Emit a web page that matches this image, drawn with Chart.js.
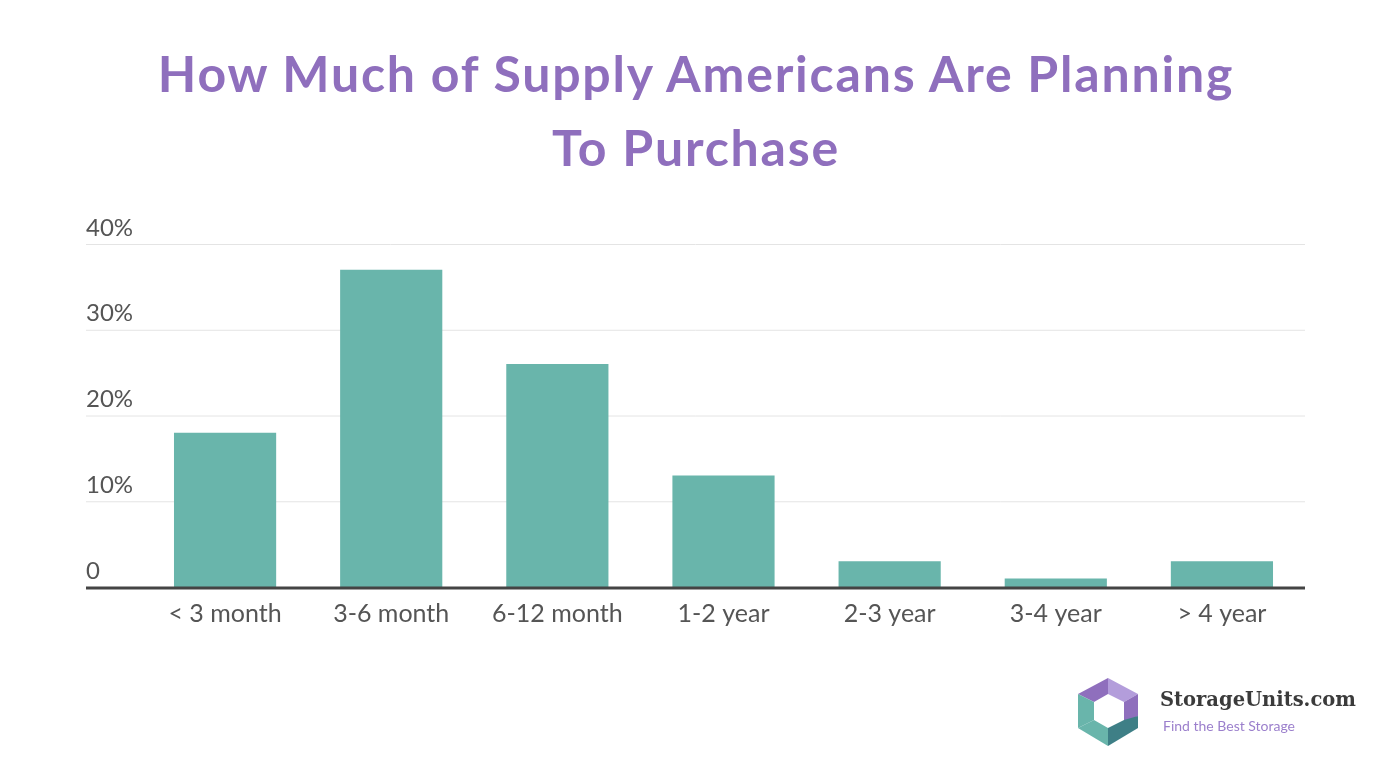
<!DOCTYPE html>
<html>
<head>
<meta charset="utf-8">
<script src="https://cdn.jsdelivr.net/npm/chart.js@4"></script>
<style>
  html, body { margin: 0; padding: 0; background: #fff; }
  #wrap { position: relative; width: 1392px; height: 774px; }
  #title { position: absolute; top: 36px; left: 0; width: 1392px; text-align: center;
    font-family: Lato, sans-serif; font-weight: bold; font-size: 50px; letter-spacing: 1.8px; line-height: 74px; color: #8f6fbd; }
  #logo { position: absolute; left: 1076px; top: 676px; }
  #brand { position: absolute; left: 1160px; top: 688px; font-family: "DejaVu Serif", serif; font-size: 19.5px; color: #3b3b3b; font-weight: bold; }
  #tag { position: absolute; left: 1163px; top: 717px; font-family: Lato, sans-serif; font-size: 14px; color: #9b7fcc; }
</style>
</head>
<body>
<div id="wrap">
  <canvas id="c" width="1392" height="774"></canvas>
  <div id="title">How Much of Supply Americans Are Planning<br>To Purchase</div>
  <svg id="logo" width="70" height="72" viewBox="0 0 70 72">
    <polygon points="2,18 32,2 32,18 18,26 2,18" fill="#8f6fbd"/>
    <polygon points="32,2 62,18 48,26 32,18" fill="#b39ddb"/>
    <polygon points="2,18 18,26 18,44 2,52" fill="#69b5ab"/>
    <polygon points="48,26 62,18 62,40 48,48" fill="#8f6fbd"/>
    <polygon points="2,52 18,44 32,52 32,70" fill="#69b5ab"/>
    <polygon points="32,52 48,44 62,40 62,52 32,70" fill="#3e7f86"/>
  </svg>
  <div id="brand">StorageUnits.com</div>
  <div id="tag">Find the Best Storage</div>
</div>
<script>
var categories = ['< 3 month', '3-6 month', '6-12 month', '1-2 year', '2-3 year', '3-4 year', '> 4 year'];
var values = [18, 37, 26, 13, 3, 1, 3];
var yTicks = [0, 10, 20, 30, 40];

var AXIS_LEFT = 86;

var gridPlugin = {
  id: 'leftGrid',
  beforeDatasetsDraw: function (chart) {
    var ctx = chart.ctx, y = chart.scales.y, area = chart.chartArea;
    ctx.save();
    ctx.font = '24px Lato, sans-serif';
    ctx.fillStyle = '#555';
    ctx.textBaseline = 'bottom';
    yTicks.forEach(function (t) {
      var py = y.getPixelForValue(t);
      if (t > 0) {
        ctx.strokeStyle = '#e4e4e4';
        ctx.lineWidth = 1;
        ctx.beginPath();
        ctx.moveTo(AXIS_LEFT, py + 0.5);
        ctx.lineTo(area.right, py + 0.5);
        ctx.stroke();
      }
      ctx.fillText(t === 0 ? '0' : t + '%', AXIS_LEFT, py - 4);
    });
    ctx.restore();
  },
  afterDatasetsDraw: function (chart) {
    var ctx = chart.ctx, y = chart.scales.y, area = chart.chartArea;
    var py = y.getPixelForValue(0);
    ctx.save();
    ctx.strokeStyle = '#444';
    ctx.lineWidth = 3;
    ctx.beginPath();
    ctx.moveTo(AXIS_LEFT, py + 1);
    ctx.lineTo(area.right, py + 1);
    ctx.stroke();
    ctx.restore();
  }
};

new Chart(document.getElementById('c'), {
  type: 'bar',
  data: {
    labels: categories,
    datasets: [{ data: values, backgroundColor: '#69b5ab', barPercentage: 0.615, categoryPercentage: 1 }]
  },
  options: {
    responsive: false,
    animation: false,
    layout: { padding: { left: 142, right: 87, top: 244, bottom: 0 } },
    plugins: { legend: { display: false }, tooltip: { enabled: false } },
    scales: {
      x: {
        grid: { display: false },
        border: { display: false },
        ticks: { color: '#555', font: { family: 'Lato, sans-serif', size: 25 }, padding: 4 },
        afterFit: function (s) { s.height = 187; }
      },
      y: {
        min: 0, max: 40,
        display: false
      }
    }
  },
  plugins: [gridPlugin]
});
</script>
</body>
</html>
